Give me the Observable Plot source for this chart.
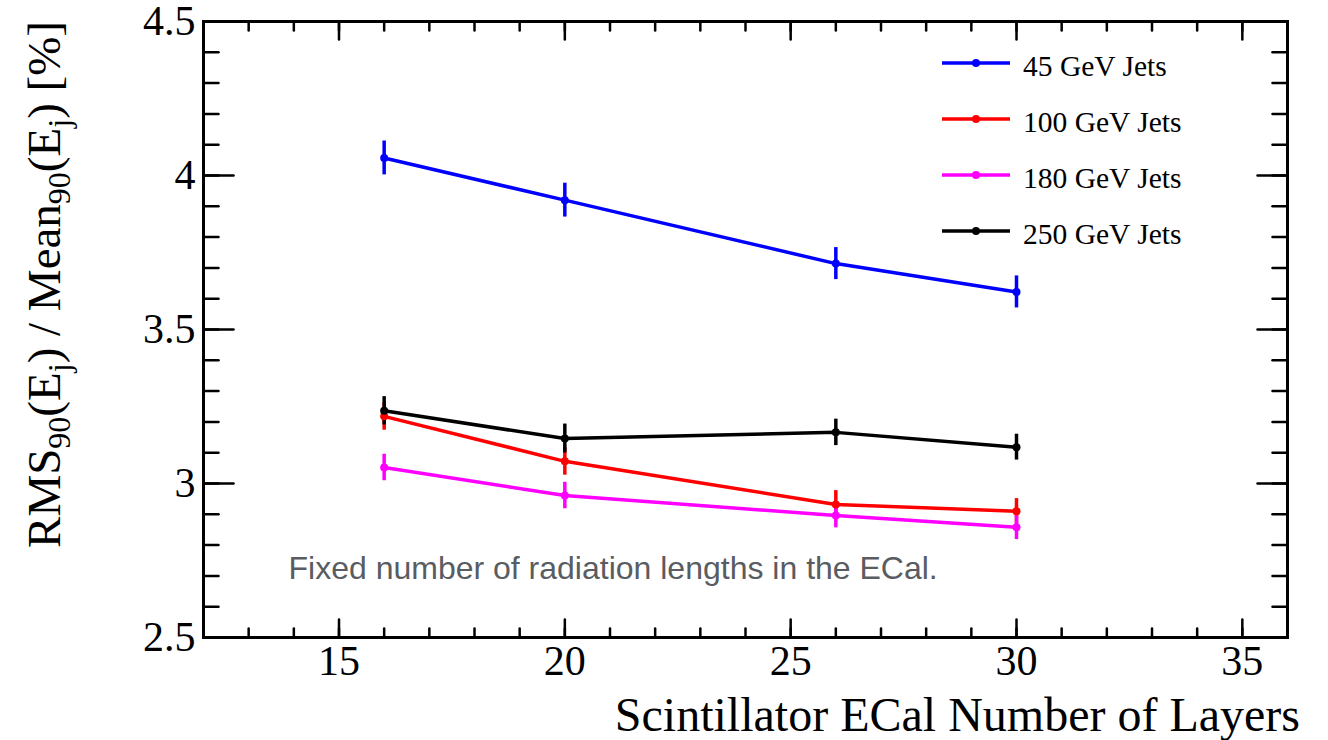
<!DOCTYPE html>
<html>
<head>
<meta charset="utf-8">
<script src="https://cdn.jsdelivr.net/npm/d3@7"></script>
<script src="https://cdn.jsdelivr.net/npm/@observablehq/plot@0.6"></script>
<style>
  html, body { margin: 0; padding: 0; background: #fff; }
  #chart { position: relative; width: 1328px; height: 740px; }
  #chart svg text { font-family: "Liberation Serif", "Times New Roman", serif; }
  #chart svg text.annot { font-family: "Liberation Sans", Arial, sans-serif; }
</style>
</head>
<body>
<div id="chart"></div>
<script>
// ---- data ----
const layers = [16, 20, 26, 30];
const series = ["45 GeV Jets", "100 GeV Jets", "180 GeV Jets", "250 GeV Jets"];
const colors = ["#0000ff", "#ff0000", "#ff00ff", "#000000"];
const res45  = [4.057, 3.920, 3.714, 3.622];
const err45  = [0.055, 0.055, 0.052, 0.052];
const res100 = [3.218, 3.072, 2.932, 2.910];
const err100 = [0.045, 0.045, 0.045, 0.041];
const res180 = [3.052, 2.961, 2.896, 2.858];
const err180 = [0.043, 0.043, 0.040, 0.040];
const res250 = [3.236, 3.146, 3.166, 3.118];
const err250 = [0.046, 0.047, 0.043, 0.042];

const xMajor = [15, 20, 25, 30, 35];
const xMinor = d3.range(12, 37, 1);
const yMajor = [2.5, 3, 3.5, 4, 4.5];
const yMinor = d3.range(25, 46, 1).map(d => d / 10);
const xTitle = "Scintillator ECal Number of Layers";
const annotation = "Fixed number of radiation lengths in the ECal.";

const values = [res45, res100, res180, res250];
const errors = [err45, err100, err180, err250];
const rows = [];
series.forEach((s, k) => layers.forEach((L, i) => rows.push({
  series: s, layers: L, value: values[k][i], err: errors[k][i]
})));

const colorScale = {domain: series, range: colors};

const tickShape = {draw(ctx, l) { ctx.moveTo(0, 0); ctx.lineTo(0, -l); }};
const serif = "Liberation Serif, Times New Roman, serif";

function ticks(data, anchor, rotate, length) {
  const o = {frameAnchor: anchor, rotate, length, anchor: "start", shape: tickShape, stroke: "black", strokeWidth: 2.5};
  if (anchor === "bottom" || anchor === "top") o.x = d => d; else o.y = d => d;
  return Plot.vector(data, o);
}

const plot = Plot.plot({
  width: 1328,
  height: 740,
  marginTop: 21,
  marginRight: 41,
  marginBottom: 103,
  marginLeft: 203,
  style: {fontFamily: serif, background: "#fff", color: "#000"},
  x: {domain: [12, 36]},
  y: {domain: [2.5, 4.5]},
  color: colorScale,
  marks: [
    // tick labels
    Plot.axisX({ticks: xMajor, tickSize: 0, tickPadding: 8, fontSize: 42, fontFamily: serif, fontVariant: "normal", label: null, tickFormat: d => String(d)}),
    Plot.axisY({ticks: yMajor, tickSize: 0, tickPadding: 8, fontSize: 42, fontFamily: serif, fontVariant: "normal", label: null, tickFormat: d => String(d)}),
    // inward ticks on all four sides
    ticks(xMinor, "bottom", 0, 9),
    ticks(xMajor, "bottom", 0, 18),
    ticks(xMinor, "top", 180, 9),
    ticks(xMajor, "top", 180, 18),
    ticks(yMinor, "left", 90, 15),
    ticks(yMajor, "left", 90, 30),
    ticks(yMinor, "right", -90, 15),
    ticks(yMajor, "right", -90, 30),
    Plot.frame({stroke: "black", strokeWidth: 3}),
    // annotation
    Plot.text([annotation], {
      frameAnchor: "bottom-left", dx: 85, dy: -69, text: d => d,
      textAnchor: "start", lineAnchor: "middle", className: "annot",
      fontFamily: "Liberation Sans, Arial, sans-serif", fontSize: 32, fill: "#595c61"
    }),
    // error bars
    Plot.ruleX(rows, {x: "layers", y1: d => d.value - d.err, y2: d => d.value + d.err, stroke: "series", strokeWidth: 3.5}),
    // lines
    Plot.line(rows, {x: "layers", y: "value", z: "series", stroke: "series", strokeWidth: 3.5}),
    // points
    Plot.dot(rows, {x: "layers", y: "value", fill: "series", r: 4})
  ]
});

const svg = d3.select(plot);
svg.selectAll("g[aria-label='text'] text").attr("class", "annot");

// y-axis title with subscripts
const yt = svg.append("text")
  .attr("transform", "translate(60,21) rotate(-90)")
  .attr("text-anchor", "end")
  .attr("font-family", serif)
  .attr("font-size", 47)
  .attr("fill", "#000");
const parts = [["RMS", 0], ["90", 1], ["(E", 0], ["j", 1], [") / Mean", 0], ["90", 1], ["(E", 0], ["j", 1], [") [%]", 0]];
parts.forEach(([t, sub]) => {
  yt.append("tspan")
    .attr("font-size", sub ? 32 : 47)
    .attr("baseline-shift", sub ? "-30%" : null)
    .text(t);
});

// x-axis title
svg.append("text")
  .attr("x", 1300).attr("y", 731)
  .attr("text-anchor", "end")
  .attr("font-family", serif)
  .attr("font-size", 48)
  .attr("fill", "#000")
  .text(xTitle);

// legend
const lg = svg.append("g");
series.forEach((s, k) => {
  const cy = 63 + k * 56;
  lg.append("line").attr("x1", 942).attr("x2", 1010).attr("y1", cy).attr("y2", cy)
    .attr("stroke", colors[k]).attr("stroke-width", 3.5);
  lg.append("circle").attr("cx", 976).attr("cy", cy).attr("r", 4).attr("fill", colors[k]);
  lg.append("text").attr("x", 1023).attr("y", cy).attr("dy", "0.45em")
    .attr("text-anchor", "start")
    .attr("font-family", serif).attr("font-size", 29.5).attr("fill", "#000").text(s);
});

document.getElementById("chart").appendChild(plot);
</script>
</body>
</html>
